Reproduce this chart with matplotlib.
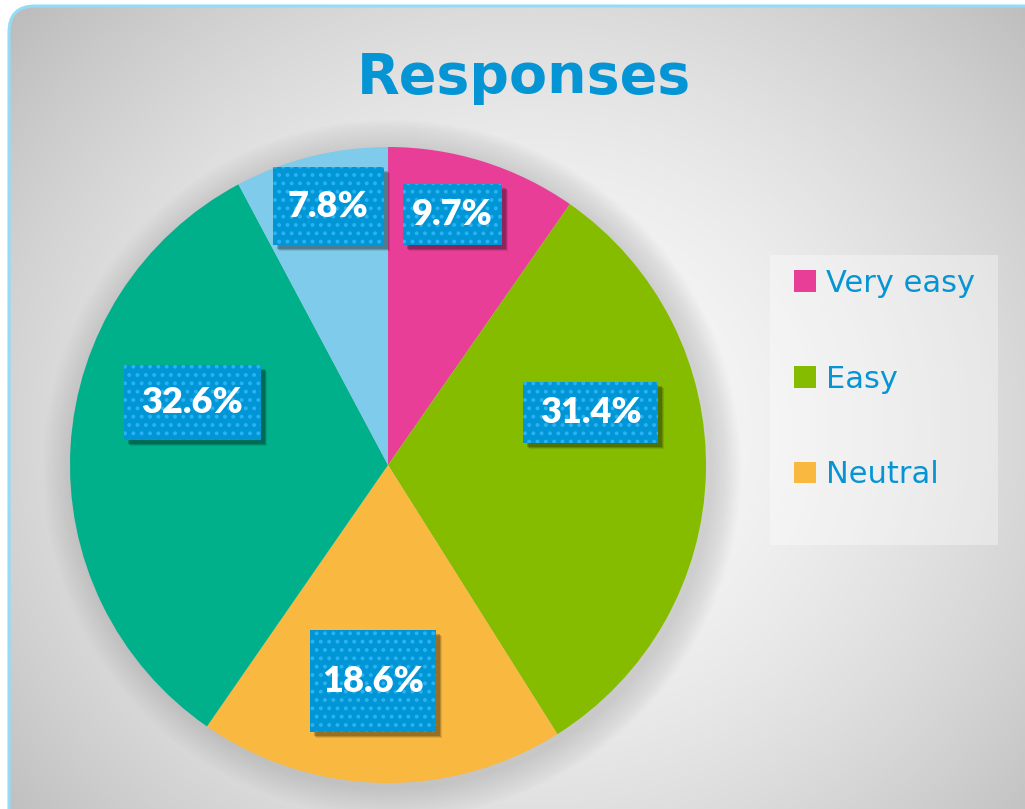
import numpy as np
import matplotlib.pyplot as plt
from matplotlib.patches import Rectangle, FancyBboxPatch, Patch, Circle

categories = ['Very easy', 'Easy', 'Neutral', 'Difficult', 'Very difficult']
shares = [9.7, 31.4, 18.6, 32.6, 7.8]
pct_labels = ['9.7%', '31.4%', '18.6%', '32.6%', '7.8%']
legend_count = 3  # the legend in the picture only shows the first three

colors = ['#E83E97', '#86BC00', '#F9B83F', '#00B08B', '#7FCBEB']
box_blue = '#0096D6'
dot_blue = '#2BB2F5'
text_blue = '#0595D5'

# label box layout (pixels) and placement tweaks
box_sizes = [(99, 61), (135, 61), (126, 102), (137, 75), (111, 78)]
label_r = [0.813, 0.658, 0.681, 0.646, 0.835]
label_da = [-3.0, -15.9, 2.8, 14.4, 1.0]

W, H = 1025, 809
R_PX = 318.0

plt.rcParams['hatch.linewidth'] = 1.6

fig = plt.figure(figsize=(W / 100, H / 100), dpi=100)
fig.patch.set_facecolor('white')

# background with soft radial gradient inside a rounded frame
bg = fig.add_axes([0, 0, 1, 1])
bg.set_xlim(0, W)
bg.set_ylim(H, 0)
bg.axis('off')
yy, xx = np.mgrid[0:H, 0:W]
d = np.sqrt(((xx - 530) / 660.0) ** 2 + ((yy - 430) / 600.0) ** 2)
val = 251 - 58 * np.clip(d, 0, 1.1) ** 1.7
img = np.dstack([val, val, val]) / 255.0
im = bg.imshow(np.clip(img, 0, 1), extent=(0, W, H, 0), interpolation='bilinear')
frame = FancyBboxPatch((9, 6), 1200, 1000, boxstyle='round,pad=0,rounding_size=26',
                       facecolor='none', edgecolor='#93DCF7', lw=2.2)
bg.add_patch(frame)
im.set_clip_path(frame)

# legend panel
bg.add_patch(Rectangle((770, 255), 228, 290, facecolor='white', alpha=0.35, lw=0))

fig.text(524 / W, 1 - 93 / H, 'Responses', ha='center', va='baseline',
         fontsize=40, fontweight='bold', color=text_blue, family='DejaVu Sans')

# pie
ax = fig.add_axes([(388 - R_PX) / W, (H - 465 - R_PX) / H, 2 * R_PX / W, 2 * R_PX / H])
ax.axis('off')

# soft shadow around pie
for k in range(14):
    ax.add_patch(Circle((4 / R_PX, -4 / R_PX), 1 + (k + 1) * 2.2 / R_PX,
                        facecolor='#888888', alpha=0.022, lw=0, zorder=0, clip_on=False))

wedges, _ = ax.pie(shares, colors=colors, startangle=90, counterclock=False,
                   radius=1, wedgeprops=dict(linewidth=0))
for w_ in wedges:
    w_.set_zorder(1)
ax.set_xlim(-1, 1)
ax.set_ylim(-1, 1)

for i, w_ in enumerate(wedges):
    mid = np.deg2rad((w_.theta1 + w_.theta2) / 2 - label_da[i])
    cx = label_r[i] * np.cos(mid)
    cy = label_r[i] * np.sin(mid)
    bw = box_sizes[i][0] / R_PX
    bh = box_sizes[i][1] / R_PX
    for s, a in [(6, 0.10), (5, 0.15), (4, 0.2)]:
        ax.add_patch(Rectangle((cx - bw / 2 + s / R_PX, cy - bh / 2 - s / R_PX), bw, bh,
                               facecolor='black', alpha=a, lw=0, zorder=3))
    ax.add_patch(Rectangle((cx - bw / 2, cy - bh / 2), bw, bh, facecolor=box_blue,
                           lw=0, zorder=4))
    ax.add_patch(Rectangle((cx - bw / 2, cy - bh / 2), bw, bh, facecolor='none',
                           edgecolor=dot_blue, hatch='..', lw=0, zorder=5))
    ax.text(cx, cy, pct_labels[i], ha='center', va='center', color='white',
            fontsize=26, fontweight='heavy', family='Lato', zorder=6)

handles = [Patch(facecolor=colors[i], edgecolor='none', label=categories[i])
           for i in range(legend_count)]
leg = fig.legend(handles=handles, loc='upper left',
                 bbox_to_anchor=(780 / W, 1 - 255 / H), bbox_transform=fig.transFigure,
                 frameon=False, fontsize=22, handlelength=0.72, handleheight=0.72,
                 handletextpad=0.33, labelspacing=2.18, borderpad=0.46, borderaxespad=0)
for t in leg.get_texts():
    t.set_color(text_blue)

fig.savefig('out.png', dpi=100)
